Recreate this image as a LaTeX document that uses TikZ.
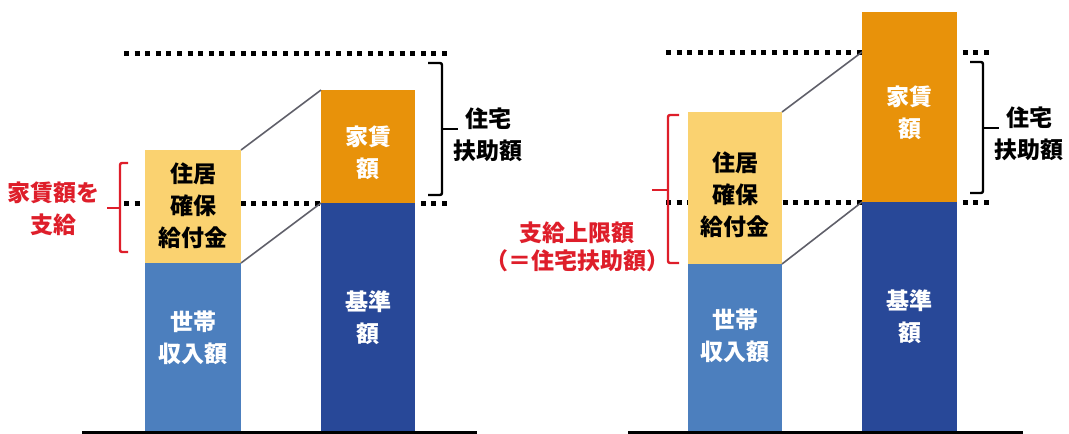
\documentclass[tikz,border=0pt]{standalone}
\usepackage{fontspec}
\newfontfamily\jp{Noto Sans CJK JP}
\definecolor{cyel}{RGB}{250,210,112}
\definecolor{clb}{RGB}{76,127,190}
\definecolor{cdb}{RGB}{40,72,152}
\definecolor{corg}{RGB}{232,146,10}
\definecolor{cred}{RGB}{222,30,42}
\definecolor{cgray}{RGB}{95,95,105}
\begin{document}
\begin{tikzpicture}[x=1pt,y=-1pt,
  bar/.style={rectangle, draw=none, inner sep=0pt, outer sep=0pt, anchor=north west},
  lbl/.style={font=\jp\bfseries\fontsize{23}{32}\selectfont, align=center, inner sep=0pt},
  dots/.style={line width=5pt, dash pattern=on 5pt off 5.6pt, black},
  conn/.style={cgray, line width=1.6pt},
  base/.style={black, line width=3pt},
  rbrace/.style={cred, line width=2.4pt, rounded corners=2pt},
  kbrace/.style={black, line width=2.4pt, rounded corners=2pt}]
\useasboundingbox (0,0) rectangle (1069,434);

% ---------- dotted guide lines ----------
\coordinate (lt1) at (124,53);  \coordinate (rt1) at (448,53);
\coordinate (lb1) at (124,203); \coordinate (rb1) at (448,203);
\coordinate (lt2) at (666,52);  \coordinate (rt2) at (990,52);
\coordinate (lb2) at (666,202); \coordinate (rb2) at (990,202);
\draw[dots] (lt1) -- (rt1);
\draw[dots] (lb1) -- (rb1);
\draw[dots] (lt2) -- (rt2);
\draw[dots] (lb2) -- (rb2);

% ---------- left panel bars ----------
\node[bar, fill=cyel, minimum width=96pt, minimum height=113pt] (y1) at (145,150) {};
\node[bar, fill=clb,  minimum width=96pt, minimum height=169pt] (b1) at (145,263) {};
\node[bar, fill=corg, minimum width=94pt, minimum height=113pt] (o1) at (321,90) {};
\node[bar, fill=cdb,  minimum width=94pt, minimum height=229pt] (d1) at (321,203) {};

% ---------- right panel bars ----------
\node[bar, fill=cyel, minimum width=94pt, minimum height=152pt] (y2) at (688,112) {};
\node[bar, fill=clb,  minimum width=94pt, minimum height=168pt] (b2) at (688,264) {};
\node[bar, fill=corg, minimum width=95pt, minimum height=190pt] (o2) at (862,12) {};
\node[bar, fill=cdb,  minimum width=95pt, minimum height=230pt] (d2) at (862,202) {};

% ---------- connectors ----------
\draw[conn] (y1.north east) -- (o1.north west);
\draw[conn] (y1.south east) -- (o1.south west);
\coordinate (o2t) at (862,52);
\draw[conn] (y2.north east) -- (o2t);
\draw[conn] (y2.south east) -- (o2.south west);

% ---------- baselines ----------
\coordinate (g1a) at (82,432.5);  \coordinate (g1b) at (477,432.5);
\coordinate (g2a) at (628,432.5); \coordinate (g2b) at (1023,432.5);
\draw[base] (g1a) -- (g1b);
\draw[base] (g2a) -- (g2b);

% ---------- bar labels ----------
\node[lbl, text=black] (ty1) at (193,205.5) {住居\\確保\\給付金};
\node[lbl, text=white] (tb1) at (193,337.5) {世帯\\収入額};
\node[lbl, text=white] (to1) at (368,152.5) {家賃\\額};
\node[lbl, text=white] (td1) at (368,317.5) {基準\\額};

\node[lbl, text=black] (ty2) at (735,195) {住居\\確保\\給付金};
\node[lbl, text=white] (tb2) at (735,336) {世帯\\収入額};
\node[lbl, text=white] (to2) at (909.5,113) {家賃\\額};
\node[lbl, text=white] (td2) at (909.5,317) {基準\\額};

% ---------- brackets ----------
\draw[rbrace] (128,163) -- (120,163) -- (120,252) -- (128,252);
\draw[cred, line width=2.4pt] (120,208) -- (107,208);
\draw[kbrace] (428,63) -- (442,63) -- (442,195) -- (428,195);
\draw[black, line width=2.4pt] (442,129) -- (458,129);

\draw[rbrace] (679,115) -- (668,115) -- (668,263) -- (679,263);
\draw[cred, line width=2.4pt] (668,190) -- (652,190);
\draw[kbrace] (970,62) -- (983,62) -- (983,193) -- (970,193);
\draw[black, line width=2.4pt] (983,128) -- (999,128);

% ---------- side labels ----------
\node[lbl, text=cred] (rl1) at (54,209) {家賃額を\\支給};
\node[lbl, text=black] (kl1) at (488,135) {住宅\\扶助額};
\node[lbl, text=cred, font=\jp\bfseries\fontsize{23}{28}\selectfont] (rl2) at (577,246.5) {支給上限額\\（＝住宅扶助額）};
\node[lbl, text=black] (kl2) at (1029,134) {住宅\\扶助額};
\end{tikzpicture}
\end{document}
